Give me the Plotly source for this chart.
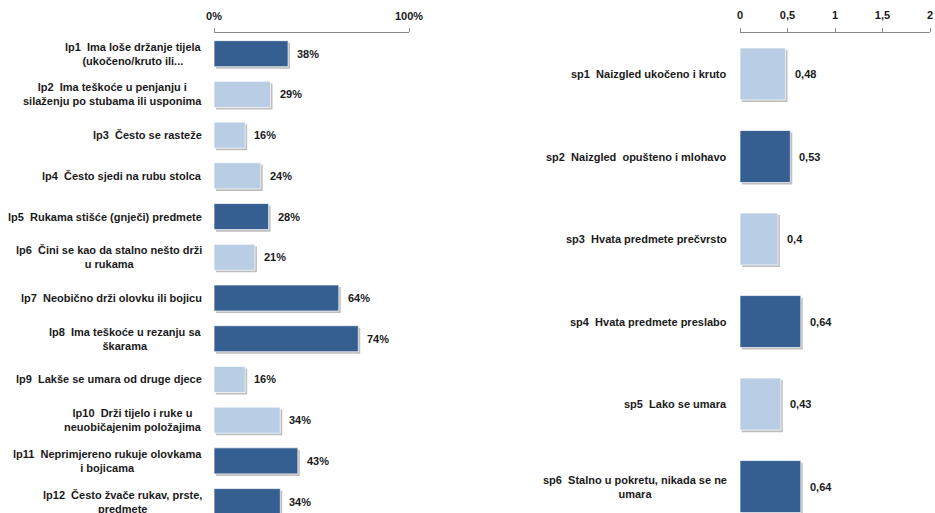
import plotly.graph_objects as go

# ---- data ----
left_codes = ["lp1", "lp2", "lp3", "lp4", "lp5", "lp6", "lp7", "lp8", "lp9", "lp10", "lp11", "lp12"]
left_labels = [
    "lp1  Ima loše držanje tijela<br>(ukočeno/kruto ili...",
    "lp2  Ima teškoće u penjanju i<br>silaženju po stubama ili usponima",
    "lp3  Često se rasteže",
    "lp4  Često sjedi na rubu stolca",
    "lp5  Rukama stišće (gnječi) predmete",
    "lp6  Čini se kao da stalno nešto drži<br>u rukama",
    "lp7  Neobično drži olovku ili bojicu",
    "lp8  Ima teškoće u rezanju sa<br>škarama",
    "lp9  Lakše se umara od druge djece",
    "lp10  Drži tijelo i ruke u<br>neuobičajenim položajima",
    "lp11  Neprimjereno rukuje olovkama<br>i bojicama",
    "lp12  Često žvače rukav, prste,<br>predmete",
]
left_values = [38, 29, 16, 24, 28, 21, 64, 74, 16, 34, 43, 34]
left_dark = [True, False, False, False, True, False, True, True, False, False, True, True]
left_ticks = [0, 100]
left_ticktext = ["0%", "100%"]

right_codes = ["sp1", "sp2", "sp3", "sp4", "sp5", "sp6"]
right_labels = [
    "sp1  Naizgled ukočeno i kruto",
    "sp2  Naizgled  opušteno i mlohavo",
    "sp3  Hvata predmete prečvrsto",
    "sp4  Hvata predmete preslabo",
    "sp5  Lako se umara",
    "sp6  Stalno u pokretu, nikada se ne<br>umara",
]
right_values = [0.48, 0.53, 0.4, 0.64, 0.43, 0.64]
right_dark = [False, True, False, True, False, True]
right_ticks = [0, 0.5, 1, 1.5, 2]
right_ticktext = ["0", "0,5", "1", "1,5", "2"]

# ---- style ----
DARK = "#365F91"
LIGHT = "#B9CDE5"
SHADOW = "rgba(110,110,110,0.45)"
FONT = "Liberation Sans Narrow, Arial Narrow, Liberation Sans, Arial, sans-serif"
TXT = "#1a1a1a"
FS = 11
W, H = 935, 513

fig = go.Figure()

def add_panel(codes, labels, values, dark, xa, ya, width, dx, dy, fmt, label_shift):
    cols = [DARK if d else LIGHT for d in dark]
    fig.add_trace(go.Bar(
        y=codes, x=values, base=[dx] * len(values), orientation="h",
        width=width, offset=-width / 2 + dy,
        marker=dict(color=SHADOW, line=dict(width=0)),
        xaxis=xa, yaxis=ya, hoverinfo="skip", showlegend=False,
    ))
    fig.add_trace(go.Bar(
        y=codes, x=values, orientation="h", width=width,
        marker=dict(color=cols, line=dict(color="rgba(255,255,255,0.7)", width=1)),
        xaxis=xa, yaxis=ya, showlegend=False,
    ))
    for c, lab, v in zip(codes, labels, values):
        fig.add_annotation(
            x=0, y=c, xref=xa, yref=ya, text=lab, showarrow=False,
            xanchor="right", align="center", xshift=-label_shift,
            font=dict(family=FONT, size=FS, color=TXT, weight="bold"),
        )
        fig.add_annotation(
            x=v, y=c, xref=xa, yref=ya, text=fmt(v), showarrow=False,
            xanchor="left", xshift=7,
            font=dict(family=FONT, size=FS, color=TXT, weight="bold"),
        )

add_panel(left_codes, left_labels, left_values, left_dark, "x", "y", 0.64, 1.0, 0.05,
          lambda v: f"{v:.0f}%", 10)
add_panel(right_codes, right_labels, right_values, right_dark, "x2", "y2", 0.63, 0.02, 0.025,
          lambda v: f"{v:g}".replace(".", ","), 11)

axis_common = dict(
    side="top", showgrid=False, zeroline=False, showline=True,
    linecolor="#8a8a8a", linewidth=1, ticks="outside", ticklen=4,
    tickcolor="#8a8a8a", tickfont=dict(family=FONT, size=FS, color=TXT, weight="bold"),
    ticklabelstandoff=4, automargin=False,
)

fig.update_layout(
    width=W, height=H,
    margin=dict(l=0, r=0, t=0, b=0, pad=0, autoexpand=False),
    paper_bgcolor="white", plot_bgcolor="white", barmode="overlay",
    xaxis=dict(domain=[214 / W, 409 / W], range=[0, 100], tickvals=left_ticks,
               ticktext=left_ticktext, anchor="y", **axis_common),
    yaxis=dict(domain=[0, 480 / H], type="category", range=[11.28, -0.508],
               showticklabels=False, showline=False, showgrid=False, zeroline=False,
               anchor="x", automargin=False),
    xaxis2=dict(domain=[740 / W, 930 / W], range=[0, 2], tickvals=right_ticks,
                ticktext=right_ticktext, anchor="y2", **axis_common),
    yaxis2=dict(domain=[0, 480.5 / H], type="category", range=[5.32, -0.503],
                showticklabels=False, showline=False, showgrid=False, zeroline=False,
                anchor="x2", automargin=False),
)

post = (
    "document.documentElement.style.margin='0';"
    "document.documentElement.style.overflow='hidden';"
    "document.body.style.margin='0';"
    "document.body.style.overflow='hidden';"
)

fig.write_html(
    "out.html",
    config={"displayModeBar": False},
    post_script=post,
)
